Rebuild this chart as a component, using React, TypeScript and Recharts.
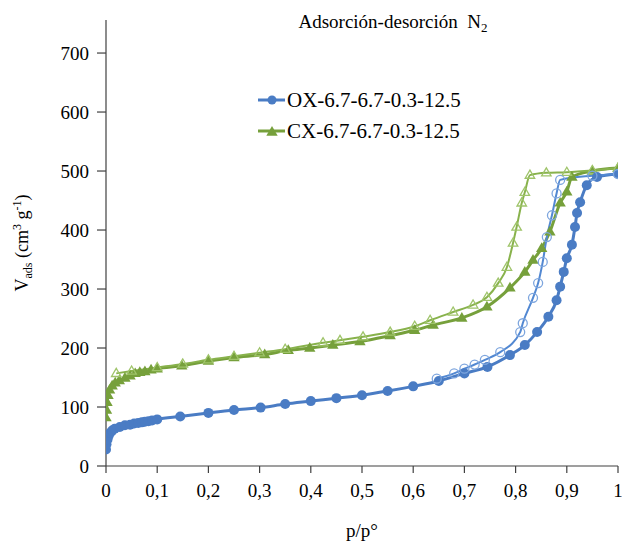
import React from 'react';
import { ComposedChart, Line, XAxis, YAxis } from 'recharts';

const FONT = "'Liberation Serif', 'Times New Roman', serif";

// p/p° ticks and V ticks
const xTicks = [0, 0.1, 0.2, 0.3, 0.4, 0.5, 0.6, 0.7, 0.8, 0.9, 1];
const yTicks = [0, 100, 200, 300, 400, 500, 600, 700];

// OX adsorption
const oxAdsX = [0, 0.001, 0.003, 0.005, 0.008, 0.012, 0.017, 0.027, 0.037, 0.047, 0.055, 0.063, 0.07, 0.076, 0.083, 0.09, 0.1, 0.145, 0.2, 0.25, 0.302, 0.35, 0.4, 0.45, 0.5, 0.55, 0.6, 0.65, 0.7, 0.745, 0.789, 0.818, 0.842, 0.864, 0.88, 0.887, 0.894, 0.9, 0.91, 0.916, 0.92, 0.926, 0.939, 0.959, 1];
const oxAdsY = [28, 37, 45, 51, 56, 60, 63, 66, 69, 70, 72, 73, 74, 75, 76, 77, 79, 84, 90, 95, 99, 105, 110, 115, 120, 127, 135, 144, 157, 168, 188, 205, 227, 253, 281, 304, 329, 352, 375, 405, 429, 447, 476, 490, 495];

// OX desorption
const oxDesX = [0.646, 0.68, 0.7, 0.72, 0.74, 0.77, 0.809, 0.814, 0.834, 0.844, 0.853, 0.861, 0.871, 0.88, 0.887, 0.95, 1];
const oxDesY = [148, 157, 165, 172, 180, 193, 227, 242, 285, 310, 346, 388, 425, 462, 485, 492, 495];

// CX adsorption
const cxAdsX = [0, 0.001, 0.002, 0.004, 0.007, 0.012, 0.018, 0.026, 0.037, 0.047, 0.057, 0.066, 0.076, 0.088, 0.1, 0.148, 0.2, 0.25, 0.31, 0.356, 0.398, 0.443, 0.496, 0.555, 0.603, 0.639, 0.695, 0.744, 0.789, 0.818, 0.834, 0.851, 0.867, 0.887, 0.9, 0.91, 0.95, 1];
const cxAdsY = [82, 95, 108, 120, 129, 136, 141, 145, 149, 153, 157, 159, 160, 163, 165, 170, 178, 184, 189, 196, 200, 205, 211, 221, 230, 239, 251, 270, 302, 329, 349, 369, 397, 446, 465, 490, 500, 505];

// CX desorption
const cxDesX = [0.02, 0.05, 0.1, 0.15, 0.2, 0.25, 0.3, 0.35, 0.424, 0.457, 0.502, 0.555, 0.603, 0.633, 0.678, 0.717, 0.744, 0.766, 0.783, 0.795, 0.802, 0.812, 0.818, 0.828, 0.86, 0.9, 0.95, 1];
const cxDesY = [157, 161, 167, 173, 180, 186, 192, 198, 209, 213, 219, 227, 237, 247, 261, 273, 286, 310, 337, 378, 405, 446, 464, 493, 497, 498, 501, 505];

const seriesNames = ['OX-6.7-6.7-0.3-12.5', 'CX-6.7-6.7-0.3-12.5'];

const zip = (xs: number[], ys: number[]) => xs.map((x, i) => ({ x, y: ys[i] }));
const oxAds = zip(oxAdsX, oxAdsY);
const oxDes = zip(oxDesX, oxDesY);
const cxAds = zip(cxAdsX, cxAdsY);
const cxDes = zip(cxDesX, cxDesY);

const BLUE = '#4a7cc4';
const BLUE_D = '#5288d2';
const BLUE_O = '#7ea6de';
const GREEN = '#76a03b';
const GREEN_D = '#88b24c';
const GREEN_O = '#9fc46a';
const AXIS = '#404040';

const circleDot = (r: number, fill: string, stroke: string, sw: number) => (p: any) => {
  if (p.cx == null || p.cy == null) return <g key={`e${p.index}`} />;
  return <circle key={`c${p.index}`} cx={p.cx} cy={p.cy} r={r} fill={fill} stroke={stroke} strokeWidth={sw} />;
};

const triPoints = (cx: number, cy: number, s: number) =>
  `${cx},${cy - s} ${cx - s * 0.95},${cy + s * 0.62} ${cx + s * 0.95},${cy + s * 0.62}`;

const triDot = (s: number, fill: string, stroke: string, sw: number) => (p: any) => {
  if (p.cx == null || p.cy == null) return <g key={`e${p.index}`} />;
  return <polygon key={`t${p.index}`} points={triPoints(p.cx, p.cy, s)} fill={fill} stroke={stroke} strokeWidth={sw} />;
};

const YLabel = () => {
  const x = 28;
  const y = 243;
  return (
    <text
      x={x}
      y={y}
      transform={`rotate(-90, ${x}, ${y})`}
      textAnchor="middle"
      fontFamily={FONT}
      fontSize={18}
      fill="#000"
    >
      <tspan>V</tspan>
      <tspan fontSize={12} dy={4}>ads</tspan>
      <tspan dy={-4}> (cm</tspan>
      <tspan fontSize={12} dy={-7}>3</tspan>
      <tspan dy={7}> g</tspan>
      <tspan fontSize={12} dy={-7}>-1</tspan>
      <tspan dy={7}>)</tspan>
    </text>
  );
};

const LegendRow = ({ top, color, kind, label }: { top: number; color: string; kind: 'c' | 't'; label: string }) => (
  <div style={{ position: 'absolute', left: 256, top: top - 15, height: 30, display: 'flex', alignItems: 'center', whiteSpace: 'nowrap' }}>
    <svg width={31} height={16} style={{ display: 'block' }}>
      <line x1={2} y1={8} x2={29} y2={8} stroke={color} strokeWidth={3} />
      {kind === 'c' ? (
        <circle cx={16} cy={8} r={4.5} fill={color} />
      ) : (
        <polygon points={triPoints(16, 9, 6)} fill={color} />
      )}
    </svg>
    <span style={{ fontFamily: FONT, fontSize: 21, color: '#000', lineHeight: '30px' }}>{label}</span>
  </div>
);

export default function App() {
  return (
    <div style={{ position: 'absolute', left: 0, top: 0, width: 622, height: 543, background: '#fff' }}>
      <ComposedChart width={622} height={543} margin={{ top: 20, right: 4, left: 0, bottom: 0 }}>
        <XAxis
          type="number"
          dataKey="x"
          domain={[0, 1]}
          ticks={xTicks}
          interval={0}
          allowDataOverflow
          tickFormatter={(v: number) => String(+v.toFixed(1)).replace('.', ',')}
          tickSize={7}
          tickMargin={11}
          height={77}
          stroke={AXIS}
          axisLine={{ stroke: AXIS, strokeWidth: 1.2 }}
          tickLine={{ stroke: AXIS, strokeWidth: 1.2 }}
          tick={{ fill: '#000', fontSize: 19, fontFamily: FONT }}
          label={{ value: 'p/p°', position: 'insideBottom', offset: 6, fill: '#000', fontSize: 19, fontFamily: FONT }}
        />
        <YAxis
          type="number"
          dataKey="y"
          domain={[0, 756]}
          ticks={yTicks}
          interval={0}
          allowDataOverflow
          width={106}
          tickSize={9}
          tickMargin={8}
          stroke={AXIS}
          axisLine={{ stroke: AXIS, strokeWidth: 1.2 }}
          tickLine={{ stroke: AXIS, strokeWidth: 1.2 }}
          tick={{ fill: '#000', fontSize: 19, fontFamily: FONT }}
          label={{ content: () => <YLabel /> }}
        />
        <Line
          data={cxAds}
          dataKey="y"
          type="monotone"
          stroke={GREEN}
          strokeWidth={3}
          dot={triDot(6, GREEN, GREEN, 0)}
          activeDot={false}
          isAnimationActive={false}
          legendType="none"
        />
        <Line
          data={cxDes}
          dataKey="y"
          type="monotone"
          stroke={GREEN_D}
          strokeWidth={2}
          dot={triDot(5, 'none', GREEN_O, 1.3)}
          activeDot={false}
          isAnimationActive={false}
          legendType="none"
        />
        <Line
          data={oxAds}
          dataKey="y"
          type="monotone"
          stroke={BLUE}
          strokeWidth={3}
          dot={circleDot(5, BLUE, BLUE, 0)}
          activeDot={false}
          isAnimationActive={false}
          legendType="none"
        />
        <Line
          data={oxDes}
          dataKey="y"
          type="monotone"
          stroke={BLUE_D}
          strokeWidth={2}
          dot={circleDot(4.5, 'none', BLUE_O, 1.3)}
          activeDot={false}
          isAnimationActive={false}
          legendType="none"
        />
      </ComposedChart>
      <div
        style={{
          position: 'absolute',
          left: 393,
          top: 12,
          transform: 'translateX(-50%)',
          whiteSpace: 'nowrap',
          fontFamily: FONT,
          fontSize: 19,
          lineHeight: 1,
          color: '#000',
        }}
      >
        Adsorción-desorción&nbsp; N<sub style={{ fontSize: 13, verticalAlign: '-4px', lineHeight: 0 }}>2</sub>
      </div>
      <LegendRow top={100} color={BLUE} kind="c" label={seriesNames[0]} />
      <LegendRow top={131} color={GREEN} kind="t" label={seriesNames[1]} />
    </div>
  );
}
